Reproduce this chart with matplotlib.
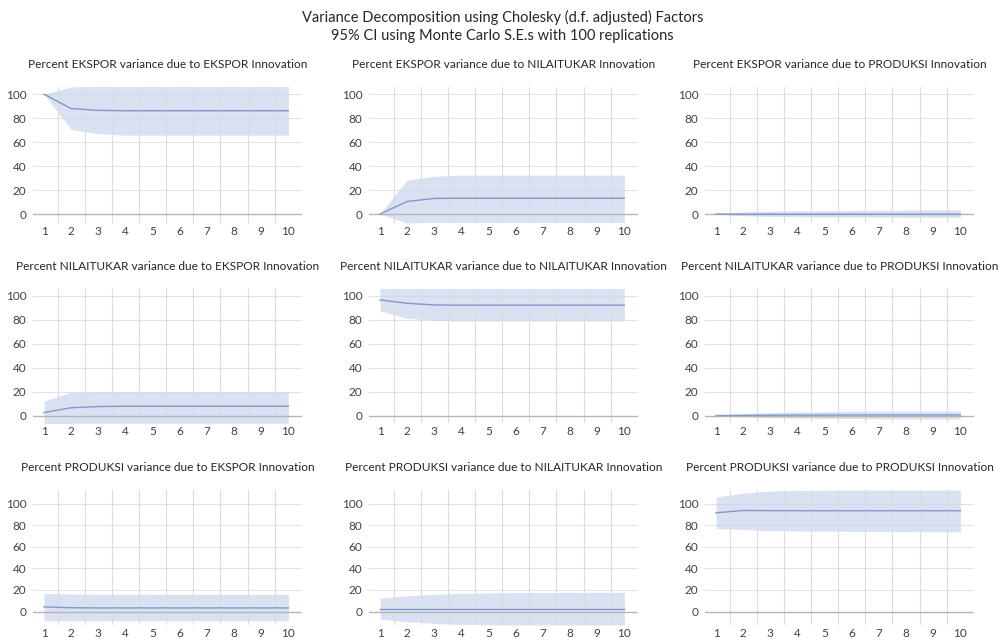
import numpy as np
import matplotlib.pyplot as plt

plt.rcParams['font.family'] = ['Lato', 'DejaVu Sans']

steps = np.arange(1, 11)
names = ['EKSPOR', 'NILAITUKAR', 'PRODUKSI']

# mean / lower / upper per (response, impulse)
mean = {
    (0, 0): [100, 88, 86.5, 86.2, 86.2, 86.2, 86.2, 86.2, 86.2, 86.2],
    (0, 1): [0, 10.5, 13, 13.2, 13.2, 13.2, 13.2, 13.2, 13.2, 13.2],
    (0, 2): [0, -0.2, -0.2, -0.2, -0.2, -0.2, -0.2, -0.2, -0.2, -0.2],
    (1, 0): [2.5, 6.5, 7.5, 7.8, 7.8, 7.8, 7.8, 7.8, 7.8, 7.8],
    (1, 1): [96.4, 93.6, 92.2, 92, 92, 92, 92, 92, 92, 92],
    (1, 2): [0, 0.2, 0.3, 0.4, 0.4, 0.5, 0.5, 0.5, 0.5, 0.5],
    (2, 0): [4.3, 3.5, 3.3, 3.3, 3.3, 3.3, 3.3, 3.3, 3.3, 3.3],
    (2, 1): [2.2, 2.2, 2.2, 2.2, 2.2, 2.2, 2.2, 2.2, 2.2, 2.2],
    (2, 2): [91.4, 93.5, 93.4, 93.3, 93.3, 93.3, 93.3, 93.3, 93.3, 93.3],
}
lower = {
    (0, 0): [100, 70.6, 67, 65.8, 65.8, 65.8, 65.8, 65.8, 65.8, 65.8],
    (0, 1): [0, -7.5, -7, -7, -7, -7, -7, -7, -7, -7],
    (0, 2): [0, -1.5, -2, -2.2, -2.4, -2.5, -2.6, -2.7, -2.7, -2.8],
    (1, 0): [-7, -6.5, -6.5, -6.5, -6.5, -6.5, -6.5, -6.5, -6.5, -6.5],
    (1, 1): [87.2, 81.1, 79.4, 78.9, 78.9, 78.9, 78.9, 78.9, 78.9, 78.9],
    (1, 2): [0, -1.2, -1.8, -2.2, -2.4, -2.5, -2.6, -2.6, -2.7, -2.7],
    (2, 0): [-8.5, -8.5, -8.5, -8.5, -8.5, -8.5, -8.5, -8.5, -8.5, -8.5],
    (2, 1): [-7, -9.5, -11, -12, -12.3, -12.5, -12.5, -12.5, -12.5, -12.5],
    (2, 2): [76.8, 75.8, 74.8, 74.5, 74.4, 74.2, 74, 73.9, 73.8, 73.7],
}
upper = {
    (0, 0): [100, 106, 107, 107, 107, 107, 107, 107, 107, 107],
    (0, 1): [0, 28.5, 31.5, 32.5, 32.5, 32.5, 32.5, 32.5, 32.5, 32.5],
    (0, 2): [0, 1.8, 2.3, 2.6, 2.8, 3.0, 3.2, 3.3, 3.4, 3.5],
    (1, 0): [12, 19.5, 20, 20, 20, 20, 20, 20, 20, 20],
    (1, 1): [106, 106, 106, 106, 106, 106, 106, 106, 106, 106],
    (1, 2): [0, 1.5, 2.5, 3, 3.3, 3.5, 3.6, 3.7, 3.8, 3.8],
    (2, 0): [16.7, 16.3, 16, 16, 15.8, 15.8, 15.8, 15.8, 15.8, 15.8],
    (2, 1): [12.5, 14.5, 16, 16.8, 17.2, 17.5, 17.6, 17.7, 17.7, 17.7],
    (2, 2): [106, 109.5, 111.5, 112, 112.3, 112.5, 112.5, 112.5, 112.5, 112.5],
}

W, H = 1005, 642
fig = plt.figure(figsize=(W / 100, H / 100), dpi=100)

row_box = [(87, 223, -7.5, 106), (289, 423, -6.2, 105.5), (490, 625, -12.5, 112.5)]
col_x1 = [44, 380, 716]
ppu = 27.15

fig.text(0.5, 1 - 17 / H, 'Variance Decomposition using Cholesky (d.f. adjusted) Factors',
         ha='center', va='center', fontsize=10.5, color='#262626')
fig.text(0.5, 1 - 36 / H, '95% CI using Monte Carlo S.E.s with 100 replications',
         ha='center', va='center', fontsize=10.5, color='#262626')

for r in range(3):
    top, bot, y0, y1 = row_box[r]
    for c in range(3):
        left = col_x1[c] - 0.4 * ppu
        ax = fig.add_axes([left / W, 1 - bot / H, 9.9 * ppu / W, (bot - top) / H])
        ax.set_xlim(0.6, 10.5)
        ax.set_ylim(y0, y1)
        for s in ax.spines.values():
            s.set_visible(False)
        for v in [20, 40, 60, 80, 100]:
            ax.axhline(v, color='#e3e3e3', lw=0.8, zorder=0)
        for v in np.arange(1.5, 10, 1):
            ax.axvline(v, color='#dcdcdc', lw=0.8, zorder=3)
        ax.axhline(0, color='#b5b5b5', lw=1.0, zorder=3)
        ax.fill_between(steps, lower[(r, c)], upper[(r, c)], color='#c9d5ee', alpha=0.7,
                        lw=0, zorder=1)
        ax.plot(steps, mean[(r, c)], color='#8497c8', lw=1.0, zorder=4)
        ax.set_xticks(steps)
        ax.set_yticks([0, 20, 40, 60, 80, 100])
        ax.tick_params(length=0, labelsize=8.5, colors='#404040', pad=5)
        ax.tick_params(axis='x', pad=2)
        ax.set_title('Percent %s variance due to %s Innovation' % (names[r], names[c]),
                     fontsize=8.6, color='#262626', pad=14)

fig.savefig('out.png', dpi=100)
